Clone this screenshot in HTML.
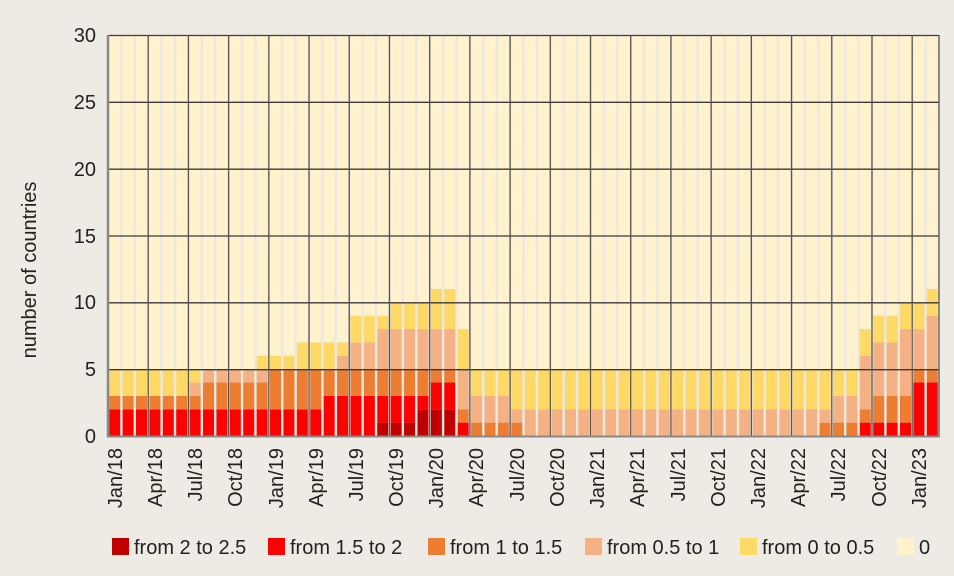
<!DOCTYPE html>
<html><head><meta charset="utf-8"><style>
html,body{margin:0;padding:0;background:#eeebe5;}
svg{display:block;font-family:"Liberation Sans",Arial,sans-serif;}
</style></head><body>
<svg id="c" width="954" height="576" viewBox="0 0 954 576" xmlns="http://www.w3.org/2000/svg">
<rect width="954" height="576" fill="#eeebe5"/>
<rect x="108" y="35" width="831" height="401" fill="#ebe8e1"/>
<g id="bars"></g>
<g stroke="#3a3a3a" stroke-width="1.3">
<line x1="108" x2="939" y1="35.5" y2="35.5"/>
<line x1="108" x2="939" y1="102.3" y2="102.3"/>
<line x1="108" x2="939" y1="169.2" y2="169.2"/>
<line x1="108" x2="939" y1="236" y2="236"/>
<line x1="108" x2="939" y1="302.8" y2="302.8"/>
<line x1="108" x2="939" y1="369.7" y2="369.7"/>
</g>
<g id="vl" stroke="#555" stroke-width="1.3"></g>
<line x1="108" x2="108" y1="35" y2="437" stroke="#888" stroke-width="2.5"/>
<line x1="107" x2="940" y1="436.5" y2="436.5" stroke="#888" stroke-width="2"/>
<g font-size="20" fill="#222" text-anchor="end">
<text x="96" y="42">30</text>
<text x="96" y="109">25</text>
<text x="96" y="176">20</text>
<text x="96" y="243">15</text>
<text x="96" y="309">10</text>
<text x="96" y="376">5</text>
<text x="96" y="443">0</text>
</g>
<text transform="translate(36,270) rotate(-90)" font-size="20" fill="#222" text-anchor="middle">number of countries</text>
<g font-size="20" fill="#222" text-anchor="end">
<text transform="translate(122,448) rotate(-90)">Jan/18</text>
<text transform="translate(162,448) rotate(-90)">Apr/18</text>
<text transform="translate(202,448) rotate(-90)">Jul/18</text>
<text transform="translate(242,448) rotate(-90)">Oct/18</text>
<text transform="translate(283,448) rotate(-90)">Jan/19</text>
<text transform="translate(323,448) rotate(-90)">Apr/19</text>
<text transform="translate(363,448) rotate(-90)">Jul/19</text>
<text transform="translate(403,448) rotate(-90)">Oct/19</text>
<text transform="translate(443,448) rotate(-90)">Jan/20</text>
<text transform="translate(483,448) rotate(-90)">Apr/20</text>
<text transform="translate(524,448) rotate(-90)">Jul/20</text>
<text transform="translate(564,448) rotate(-90)">Oct/20</text>
<text transform="translate(604,448) rotate(-90)">Jan/21</text>
<text transform="translate(644,448) rotate(-90)">Apr/21</text>
<text transform="translate(685,448) rotate(-90)">Jul/21</text>
<text transform="translate(725,448) rotate(-90)">Oct/21</text>
<text transform="translate(765,448) rotate(-90)">Jan/22</text>
<text transform="translate(805,448) rotate(-90)">Apr/22</text>
<text transform="translate(845,448) rotate(-90)">Jul/22</text>
<text transform="translate(886,448) rotate(-90)">Oct/22</text>
<text transform="translate(926,448) rotate(-90)">Jan/23</text>
</g>
<g font-size="20" fill="#222">
<rect x="112" y="538" width="17" height="17" fill="#c00000"/><text x="134" y="554">from 2 to 2.5</text>
<rect x="268" y="538" width="17" height="17" fill="#ff0000"/><text x="290" y="554">from 1.5 to 2</text>
<rect x="428" y="538" width="17" height="17" fill="#ed7d31"/><text x="450" y="554">from 1 to 1.5</text>
<rect x="585" y="538" width="17" height="17" fill="#f4b183"/><text x="607" y="554">from 0.5 to 1</text>
<rect x="740" y="538" width="17" height="17" fill="#ffd966"/><text x="762" y="554">from 0 to 0.5</text>
<rect x="897" y="538" width="17" height="17" fill="#fff2cc"/><text x="919" y="554">0</text>
</g>
</svg>
<script>
var D=[];
function add(n,a){for(var i=0;i<n;i++)D.push(a);}
add(6,[0,2,3,3,5]);add(1,[0,2,3,4,5]);add(4,[0,2,4,5,5]);add(1,[0,2,4,5,6]);
add(2,[0,2,5,5,6]);add(2,[0,2,5,5,7]);add(1,[0,3,5,5,7]);add(1,[0,3,5,6,7]);
add(2,[0,3,5,7,9]);add(1,[1,3,5,8,9]);add(2,[1,3,5,8,10]);add(1,[2,3,5,8,10]);
add(2,[2,4,5,8,11]);add(1,[0,1,2,5,8]);add(3,[0,0,1,3,5]);add(1,[0,0,1,2,5]);
add(22,[0,0,0,2,5]);add(1,[0,0,1,2,5]);add(2,[0,0,1,3,5]);add(1,[0,1,2,6,8]);
add(2,[0,1,3,7,9]);add(1,[0,1,3,8,10]);add(1,[0,4,5,8,10]);add(1,[0,4,5,9,11]);
var cols=["#c00000","#ff0000","#ed7d31","#f4b183","#ffd966","#fff2cc"];
var NS="http://www.w3.org/2000/svg",g=document.getElementById("bars"),vl=document.getElementById("vl");
var x0=108,w=831/62,y0=436,u=401/30;
D.forEach(function(a,i){
 var v=a.concat([30]),prev=0;
 for(var k=0;k<6;k++){var t=v[k];if(t>prev){var r=document.createElementNS(NS,"rect");
  r.setAttribute("x",x0+i*w+1.2);r.setAttribute("width",w-2.4);
  r.setAttribute("y",y0-t*u);r.setAttribute("height",(t-prev)*u);r.setAttribute("fill",cols[k]);g.appendChild(r);}
  if(t>prev)prev=t;}
});
for(var i=3;i<=60;i+=3){var l=document.createElementNS(NS,"line");var x=x0+i*w;
 l.setAttribute("x1",x);l.setAttribute("x2",x);l.setAttribute("y1",35);l.setAttribute("y2",436);vl.appendChild(l);}
var l=document.createElementNS(NS,"line");l.setAttribute("x1",939);l.setAttribute("x2",939);l.setAttribute("y1",35);l.setAttribute("y2",436);vl.appendChild(l);
</script>
</body></html>
